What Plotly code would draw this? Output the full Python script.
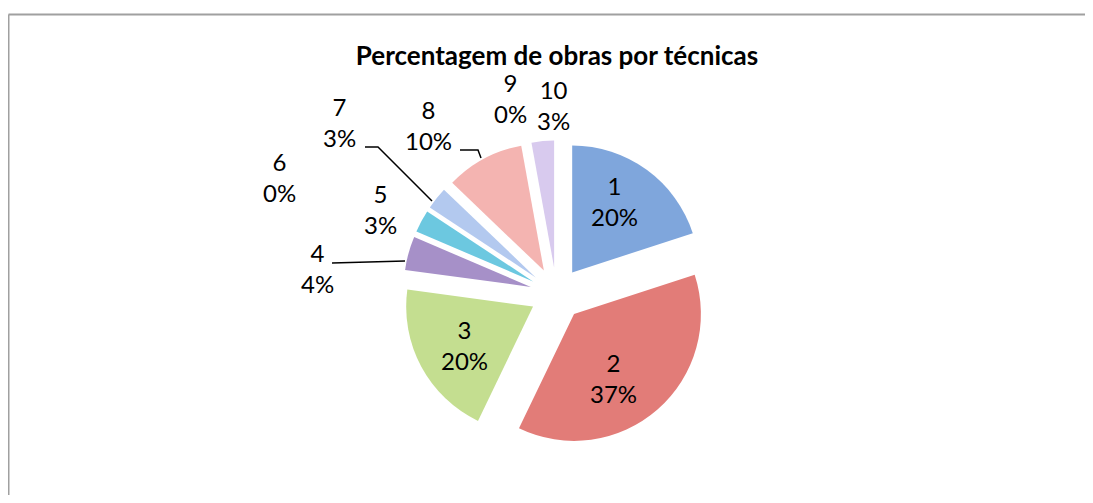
import plotly.graph_objects as go


BACKGROUND = "#FFFFFF"
TEXT = "#000000"
BORDER = "#A0A0A0"
OFFSET = 8  # the page puts the figure 8px in from the corner
W, H = 1093 - 2 * OFFSET, 503 - 2 * OFFSET  # fit in the window, no scrollbars

labels = ["1", "2", "3", "4", "5", "6", "7", "8", "9", "10"]
counts = [14, 26, 14, 3, 2, 0, 2, 7, 0, 2]
colors = [
    "#7FA6DC", "#E27C78", "#C4DE90", "#A690C8", "#6CC8E0",
    "#F9B07A", "#B3C9EF", "#F4B4B1", "#D5E8B0", "#D8CAEE",
]

# where each data label sits (screen pixels), like in the Excel chart
label_pos = {
    "1": (614, 201),
    "2": (613, 378),
    "3": (464, 345),
    "4": (317, 268),
    "5": (380, 209),
    "6": (279, 177),
    "7": (339, 122),
    "8": (428, 125),
    "9": (510, 98),
    "10": (553, 105),
}
# leader lines (screen pixels)
leaders = [
    [(332, 263), (405, 261)],
    [(365, 147), (378, 147), (432, 201)],
    [(460, 150), (478, 150), (481, 158)],
]


def px(x, y):
    return (x - OFFSET) / W, 1 - (y - OFFSET) / H


total = sum(counts)

dx0, dy0 = px(403, 447.5)
dx1, dy1 = px(710, 140.5)

fig = go.Figure(
    go.Pie(
        labels=labels,
        values=counts,
        sort=False,
        direction="clockwise",
        rotation=0,
        pull=0.21,
        marker=dict(colors=colors, line=dict(width=0)),
        textinfo="none",
        showlegend=False,
        domain=dict(x=[dx0, dx1], y=[dy0, dy1]),
        hoverinfo="label+percent",
    )
)

for lab, v in zip(labels, counts):
    x, y = px(*label_pos[lab])
    fig.add_annotation(
        x=x,
        y=y,
        xref="paper",
        yref="paper",
        text=f"{lab}<br>{round(100 * v / total)}%",
        showarrow=False,
        font=dict(family="Lato", size=24, color=TEXT),
        xanchor="center",
        yanchor="middle",
    )

# chart frame: only the left and top edges are visible in the window
fx, fy = px(8.5, 14.5)
shapes = [
    dict(type="line", xref="paper", yref="paper",
         x0=fx, x1=fx, y0=0, y1=fy,
         line=dict(color=BORDER, width=2)),
    dict(type="line", xref="paper", yref="paper",
         x0=fx, x1=1, y0=fy, y1=fy,
         line=dict(color=BORDER, width=2)),
]
for pts in leaders:
    path = "M " + " L ".join(f"{px(*p)[0]},{px(*p)[1]}" for p in pts)
    shapes.append(
        dict(
            type="path",
            xref="paper",
            yref="paper",
            path=path,
            line=dict(color=TEXT, width=1.5),
        )
    )

tx, ty = px(557, 56)
fig.update_layout(
    width=W,
    height=H,
    paper_bgcolor=BACKGROUND,
    plot_bgcolor=BACKGROUND,
    margin=dict(l=0, r=0, t=0, b=0),
    title=dict(
        text="<b>Percentagem de obras por técnicas</b>",
        font=dict(family="Lato", size=26, color=TEXT),
        x=tx,
        xanchor="center",
        y=ty,
        yanchor="middle",
        yref="container",
    ),
    shapes=shapes,
)

fig.write_html("out.html")
